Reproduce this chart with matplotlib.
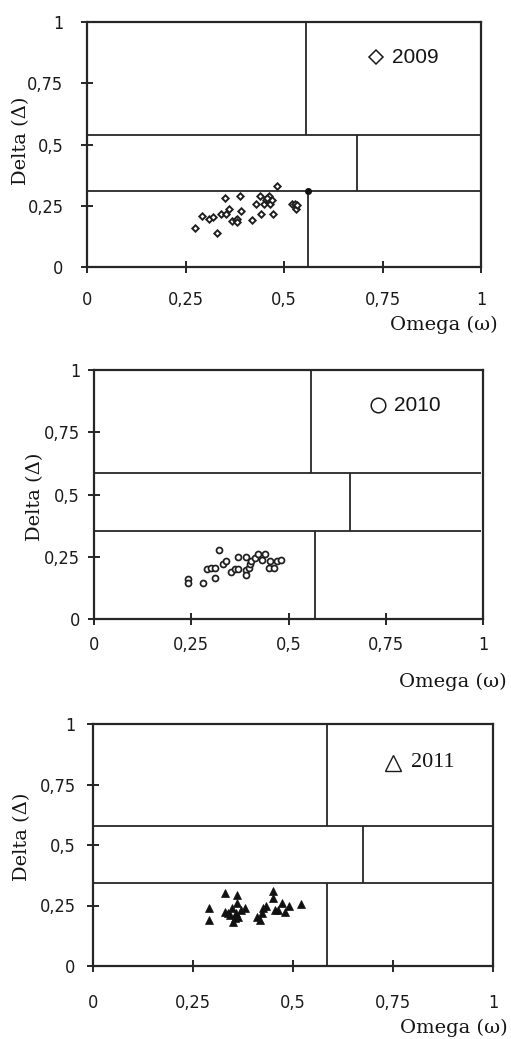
import matplotlib
matplotlib.use("Agg")
import matplotlib.pyplot as plt
from matplotlib import font_manager as fm

# ---------------- data ----------------
years = ["2009", "2010", "2011"]

omega_2009 = [0.273, 0.292, 0.310, 0.319, 0.330, 0.340, 0.349, 0.352, 0.360, 0.369,
              0.377, 0.381, 0.380, 0.389, 0.391, 0.420, 0.429, 0.440, 0.441, 0.448,
              0.454, 0.461, 0.462, 0.465, 0.470, 0.472, 0.482, 0.520, 0.528, 0.531,
              0.532, 0.456]
delta_2009 = [0.159, 0.207, 0.197, 0.204, 0.139, 0.218, 0.280, 0.218, 0.238, 0.189,
              0.190, 0.195, 0.185, 0.290, 0.229, 0.190, 0.256, 0.291, 0.218, 0.259,
              0.272, 0.288, 0.269, 0.256, 0.272, 0.218, 0.331, 0.259, 0.256, 0.235,
              0.253, 0.280]
special_2009 = (0.562, 0.310)

omega_2010 = [0.242, 0.242, 0.280, 0.291, 0.302, 0.312, 0.312, 0.321, 0.332, 0.340,
              0.351, 0.362, 0.371, 0.371, 0.392, 0.392, 0.390, 0.398, 0.402, 0.404,
              0.413, 0.422, 0.432, 0.440, 0.450, 0.452, 0.462, 0.471, 0.482]
delta_2010 = [0.159, 0.146, 0.146, 0.199, 0.206, 0.206, 0.166, 0.277, 0.220, 0.233,
              0.190, 0.199, 0.199, 0.249, 0.249, 0.197, 0.177, 0.206, 0.220, 0.233,
              0.246, 0.260, 0.237, 0.260, 0.203, 0.233, 0.206, 0.233, 0.237]

omega_2011 = [0.290, 0.290, 0.330, 0.330, 0.338, 0.348, 0.351, 0.358, 0.359, 0.361,
              0.363, 0.370, 0.380, 0.411, 0.417, 0.422, 0.426, 0.432, 0.449, 0.451,
              0.455, 0.463, 0.472, 0.480, 0.491, 0.520, 0.343, 0.354]
delta_2011 = [0.239, 0.190, 0.303, 0.225, 0.221, 0.239, 0.183, 0.221, 0.294, 0.259,
              0.204, 0.232, 0.239, 0.204, 0.190, 0.221, 0.239, 0.246, 0.308, 0.280,
              0.232, 0.232, 0.259, 0.225, 0.248, 0.255, 0.210, 0.200]

# region boundaries: (lower horizontal, upper horizontal, upper vertical, middle vertical, lower vertical)
bounds_2009 = [0.310, 0.540, 0.555, 0.686, 0.560]
bounds_2010 = [0.355, 0.585, 0.559, 0.657, 0.569]
bounds_2011 = [0.342, 0.577, 0.584, 0.674, 0.584]

tick_values = [0, 0.25, 0.5, 0.75, 1]
tick_labels = ["0", "0,25", "0,5", "0,75", "1"]

# ---------------- figure ----------------
W, H = 511, 1039
fig = plt.figure(figsize=(W / 100, H / 100), dpi=100)
fig.patch.set_facecolor("white")

# pick a narrow sans font for tick labels if one exists
names = {f.name for f in fm.fontManager.ttflist}
cond = [f for f in fm.fontManager.ttflist
        if f.name in ("DejaVu Sans", "DejaVu Sans Condensed") and "ondensed" in f.fname
        and "Bold" not in f.fname and "Oblique" not in f.fname]
if "Liberation Sans Narrow" in names:
    tick_fp = fm.FontProperties(family="Liberation Sans Narrow", size=13.5)
elif cond:
    tick_fp = fm.FontProperties(fname=cond[0].fname, size=13)
else:
    tick_fp = fm.FontProperties(family="Roboto", size=12.5)

boxes = [(87, 481, 22, 267), (94, 483, 370, 619), (93, 493, 724, 966)]
xpads = [13.0, 8.0, 15.5]
ypads = [12.5, 5.5, 8.0]
ylab_pos = [(-0.1675, 0.514), (-0.152, 0.49), (-0.1775, 0.533)]
xlab_pos = [(1.041, -0.237), (1.062, -0.253), (1.0375, -0.256)]
leg_marker_pos = [(0.733, 0.856), (0.730, 0.859), (0.750, 0.839)]
leg_text_pos = [(0.775, 0.856), (0.772, 0.859), (0.795, 0.839)]
leg_fonts = [["Liberation Sans", "DejaVu Sans"], ["Liberation Sans", "DejaVu Sans"],
             ["Liberation Serif", "DejaVu Serif"]]
leg_sizes = [15, 15, 16]
leg_markers = [dict(marker="D", ms=7.4, mfc="white", mec="#1a1a1a", mew=1.1),
               dict(marker="o", ms=10.5, mfc="white", mec="#1a1a1a", mew=1.1),
               dict(marker="^", ms=12, mfc="white", mec="#1a1a1a", mew=1.0)]

data = [(omega_2009, delta_2009), (omega_2010, delta_2010), (omega_2011, delta_2011)]
bounds = [bounds_2009, bounds_2010, bounds_2011]
mk = [dict(marker="D", ms=3.3, mfc="white", mec="#1e1e1e", mew=1.35),
      dict(marker="o", ms=4.3, mfc="white", mec="#1e1e1e", mew=1.25),
      dict(marker="^", ms=5.2, mfc="#111111", mec="#111111", mew=0.5)]

lc = "#262626"

for i in range(3):
    l, r, t, b = boxes[i]
    ax = fig.add_axes([l / W, 1 - b / H, (r - l) / W, (b - t) / H])
    ax.set_xlim(0, 1)
    ax.set_ylim(0, 1)
    for s in ax.spines.values():
        s.set_linewidth(1.6)
        s.set_color(lc)
    hl, hu, vu, vm, vl = bounds[i]
    xr = 0.994 if i == 1 else 1.0
    ax.hlines([hl, hu], 0, xr, color=lc, lw=1.3)
    ax.vlines(vu, hu, 1, color=lc, lw=1.3)
    ax.vlines(vm, hl, hu, color=lc, lw=1.3)
    ax.vlines(vl, 0, hl, color=lc, lw=1.3)

    ox, dy = data[i]
    ax.plot(ox, dy, ls="none", **mk[i], zorder=3)
    if i == 0:
        ax.plot([special_2009[0]], [special_2009[1]], ls="none", marker="o", ms=4,
                mfc="#111111", mec="#111111", zorder=4)

    ax.set_xticks(tick_values)
    ax.set_yticks(tick_values)
    ax.set_xticklabels(tick_labels, fontproperties=tick_fp)
    ax.set_yticklabels(tick_labels, fontproperties=tick_fp)
    ax.tick_params(axis="x", direction="inout", length=9, width=1.4, color=lc,
                   pad=xpads[i], labelcolor="#1a1a1a")
    ax.tick_params(axis="y", direction="inout", length=9, width=1.4, color=lc,
                   pad=ypads[i], labelcolor="#1a1a1a")

    ax.text(ylab_pos[i][0], ylab_pos[i][1], "Delta (\u0394)", rotation=90,
            transform=ax.transAxes, ha="center", va="center",
            family=["DejaVu Serif"], fontsize=14, color="#141414")
    ax.text(xlab_pos[i][0], xlab_pos[i][1], "Omega (\u03c9)",
            transform=ax.transAxes, ha="right", va="center",
            family=["DejaVu Serif"], fontsize=14, color="#141414", clip_on=False)
    ax.plot([leg_marker_pos[i][0]], [leg_marker_pos[i][1]], ls="none",
            transform=ax.transAxes, **leg_markers[i])
    ax.text(leg_text_pos[i][0], leg_text_pos[i][1], years[i],
            transform=ax.transAxes, ha="left", va="center",
            family=leg_fonts[i], fontsize=leg_sizes[i], color="#141414")

fig.savefig("out.png", dpi=100, facecolor="white")
